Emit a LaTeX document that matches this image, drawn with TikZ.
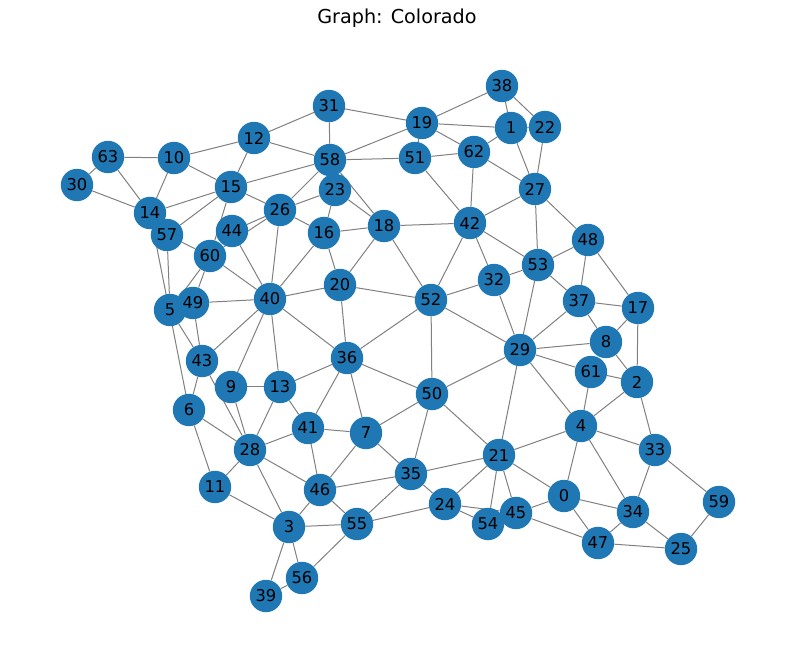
\documentclass[tikz,border=0pt]{standalone}
\usepackage{fontspec}
\setmainfont{DejaVu Sans}
\usepackage{xcolor}
\definecolor{NodeCol}{RGB}{31,119,180}
\definecolor{EdgeCol}{RGB}{128,128,128}
\usepackage{tikz}
\usetikzlibrary{backgrounds}
\tikzstyle{Node}=[circle,fill=NodeCol,inner sep=0pt,
minimum size=24.3pt,font=\fontsize{12.2}{14}\selectfont]
\tikzstyle{Edge}=[draw=EdgeCol,line width=0.75pt]
\tikzstyle{Title}=[font=\fontsize{14.4}{17}\selectfont]
\begin{document}
\begin{tikzpicture}[x=0.75pt,y=-0.75pt]
        \useasboundingbox(0,0)rectangle(794,659);
        \node[Title](title)at(397,18.5){Graph: Colorado};
        % vertices
        \node[Node](0)at(564,496){0};
        \node[Node](1)at(511,128){1};
        \node[Node](2)at(637,382){2};
        \node[Node](3)at(289,527){3};
        \node[Node](4)at(581,426){4};
        \node[Node](5)at(170,310){5};
        \node[Node](6)at(189,410){6};
        \node[Node](7)at(366,433){7};
        \node[Node](8)at(606,342){8};
        \node[Node](9)at(231,387){9};
        \node[Node](10)at(174,158){10};
        \node[Node](11)at(215,487){11};
        \node[Node](12)at(254,138){12};
        \node[Node](13)at(280,387){13};
        \node[Node](14)at(150,213){14};
        \node[Node](15)at(231,187){15};
        \node[Node](16)at(324,233){16};
        \node[Node](17)at(638,308){17};
        \node[Node](18)at(384,226){18};
        \node[Node](19)at(422,123){19};
        \node[Node](20)at(340,285){20};
        \node[Node](21)at(499,455){21};
        \node[Node](22)at(545,127){22};
        \node[Node](23)at(335,190){23};
        \node[Node](24)at(445,504){24};
        \node[Node](25)at(681,549){25};
        \node[Node](26)at(280,210){26};
        \node[Node](27)at(535,189){27};
        \node[Node](28)at(250,450){28};
        \node[Node](29)at(520,350){29};
        \node[Node](30)at(77,185){30};
        \node[Node](31)at(329,106){31};
        \node[Node](32)at(494,280){32};
        \node[Node](33)at(655,450){33};
        \node[Node](34)at(633,512){34};
        \node[Node](35)at(411,474){35};
        \node[Node](36)at(347,358){36};
        \node[Node](37)at(579,301){37};
        \node[Node](38)at(502,86){38};
        \node[Node](39)at(266,596){39};
        \node[Node](40)at(270,299){40};
        \node[Node](41)at(308,428){41};
        \node[Node](42)at(470,223){42};
        \node[Node](43)at(202,361){43};
        \node[Node](44)at(232,231){44};
        \node[Node](45)at(516,513){45};
        \node[Node](46)at(320,490){46};
        \node[Node](47)at(598,543){47};
        \node[Node](48)at(588,240){48};
        \node[Node](49)at(193,303){49};
        \node[Node](50)at(432,394){50};
        \node[Node](51)at(415,158){51};
        \node[Node](52)at(431,300){52};
        \node[Node](53)at(538,265){53};
        \node[Node](54)at(488,524){54};
        \node[Node](55)at(357,524){55};
        \node[Node](56)at(302,578){56};
        \node[Node](57)at(167,235){57};
        \node[Node](58)at(330,160){58};
        \node[Node](59)at(719,502){59};
        \node[Node](60)at(210,256){60};
        \node[Node](61)at(591,372){61};
        \node[Node](62)at(474,152){62};
        \node[Node](63)at(108,157){63};
        % edges
        \begin{scope}[on background layer]
        \draw[Edge](63)--(10);
        \draw[Edge](63)--(30);
        \draw[Edge](63)--(14);
        \draw[Edge](30)--(14);
        \draw[Edge](10)--(14);
        \draw[Edge](10)--(12);
        \draw[Edge](10)--(15);
        \draw[Edge](12)--(31);
        \draw[Edge](12)--(58);
        \draw[Edge](12)--(15);
        \draw[Edge](15)--(14);
        \draw[Edge](15)--(57);
        \draw[Edge](15)--(58);
        \draw[Edge](15)--(26);
        \draw[Edge](15)--(60);
        \draw[Edge](31)--(58);
        \draw[Edge](31)--(19);
        \draw[Edge](58)--(26);
        \draw[Edge](58)--(23);
        \draw[Edge](58)--(18);
        \draw[Edge](58)--(19);
        \draw[Edge](58)--(51);
        \draw[Edge](26)--(23);
        \draw[Edge](26)--(44);
        \draw[Edge](26)--(60);
        \draw[Edge](26)--(16);
        \draw[Edge](26)--(40);
        \draw[Edge](23)--(16);
        \draw[Edge](23)--(18);
        \draw[Edge](16)--(18);
        \draw[Edge](16)--(40);
        \draw[Edge](16)--(20);
        \draw[Edge](57)--(60);
        \draw[Edge](57)--(5);
        \draw[Edge](14)--(6);
        \draw[Edge](60)--(40);
        \draw[Edge](60)--(49);
        \draw[Edge](60)--(5);
        \draw[Edge](44)--(40);
        \draw[Edge](49)--(40);
        \draw[Edge](49)--(43);
        \draw[Edge](5)--(43);
        \draw[Edge](43)--(40);
        \draw[Edge](43)--(28);
        \draw[Edge](43)--(6);
        \draw[Edge](9)--(40);
        \draw[Edge](9)--(13);
        \draw[Edge](9)--(28);
        \draw[Edge](13)--(40);
        \draw[Edge](13)--(36);
        \draw[Edge](13)--(41);
        \draw[Edge](13)--(28);
        \draw[Edge](40)--(20);
        \draw[Edge](40)--(36);
        \draw[Edge](20)--(52);
        \draw[Edge](20)--(36);
        \draw[Edge](20)--(18);
        \draw[Edge](18)--(52);
        \draw[Edge](18)--(42);
        \draw[Edge](52)--(42);
        \draw[Edge](52)--(32);
        \draw[Edge](52)--(36);
        \draw[Edge](52)--(50);
        \draw[Edge](52)--(29);
        \draw[Edge](36)--(50);
        \draw[Edge](36)--(7);
        \draw[Edge](36)--(41);
        \draw[Edge](41)--(7);
        \draw[Edge](41)--(28);
        \draw[Edge](41)--(46);
        \draw[Edge](28)--(6);
        \draw[Edge](28)--(11);
        \draw[Edge](28)--(3);
        \draw[Edge](28)--(46);
        \draw[Edge](6)--(11);
        \draw[Edge](11)--(3);
        \draw[Edge](7)--(50);
        \draw[Edge](7)--(46);
        \draw[Edge](7)--(35);
        \draw[Edge](46)--(35);
        \draw[Edge](46)--(55);
        \draw[Edge](46)--(3);
        \draw[Edge](3)--(55);
        \draw[Edge](3)--(56);
        \draw[Edge](3)--(39);
        \draw[Edge](39)--(56);
        \draw[Edge](56)--(55);
        \draw[Edge](55)--(35);
        \draw[Edge](55)--(24);
        \draw[Edge](35)--(24);
        \draw[Edge](35)--(21);
        \draw[Edge](35)--(50);
        \draw[Edge](50)--(21);
        \draw[Edge](50)--(29);
        \draw[Edge](21)--(29);
        \draw[Edge](21)--(4);
        \draw[Edge](21)--(0);
        \draw[Edge](21)--(45);
        \draw[Edge](21)--(54);
        \draw[Edge](21)--(24);
        \draw[Edge](24)--(54);
        \draw[Edge](24)--(45);
        \draw[Edge](45)--(0);
        \draw[Edge](45)--(47);
        \draw[Edge](0)--(47);
        \draw[Edge](0)--(34);
        \draw[Edge](0)--(4);
        \draw[Edge](4)--(29);
        \draw[Edge](4)--(61);
        \draw[Edge](4)--(2);
        \draw[Edge](4)--(33);
        \draw[Edge](4)--(34);
        \draw[Edge](33)--(2);
        \draw[Edge](33)--(34);
        \draw[Edge](33)--(59);
        \draw[Edge](34)--(47);
        \draw[Edge](34)--(25);
        \draw[Edge](47)--(25);
        \draw[Edge](25)--(59);
        \draw[Edge](61)--(29);
        \draw[Edge](61)--(2);
        \draw[Edge](8)--(29);
        \draw[Edge](8)--(2);
        \draw[Edge](8)--(17);
        \draw[Edge](8)--(37);
        \draw[Edge](17)--(2);
        \draw[Edge](17)--(37);
        \draw[Edge](17)--(48);
        \draw[Edge](37)--(48);
        \draw[Edge](37)--(53);
        \draw[Edge](37)--(29);
        \draw[Edge](53)--(29);
        \draw[Edge](53)--(32);
        \draw[Edge](53)--(42);
        \draw[Edge](53)--(48);
        \draw[Edge](53)--(27);
        \draw[Edge](32)--(29);
        \draw[Edge](32)--(42);
        \draw[Edge](42)--(27);
        \draw[Edge](42)--(62);
        \draw[Edge](42)--(51);
        \draw[Edge](27)--(62);
        \draw[Edge](27)--(1);
        \draw[Edge](27)--(22);
        \draw[Edge](27)--(48);
        \draw[Edge](62)--(19);
        \draw[Edge](62)--(51);
        \draw[Edge](62)--(1);
        \draw[Edge](1)--(19);
        \draw[Edge](1)--(38);
        \draw[Edge](1)--(22);
        \draw[Edge](38)--(19);
        \draw[Edge](38)--(22);
        \draw[Edge](19)--(51);
        \end{scope}
    \end{tikzpicture}
\end{document}
